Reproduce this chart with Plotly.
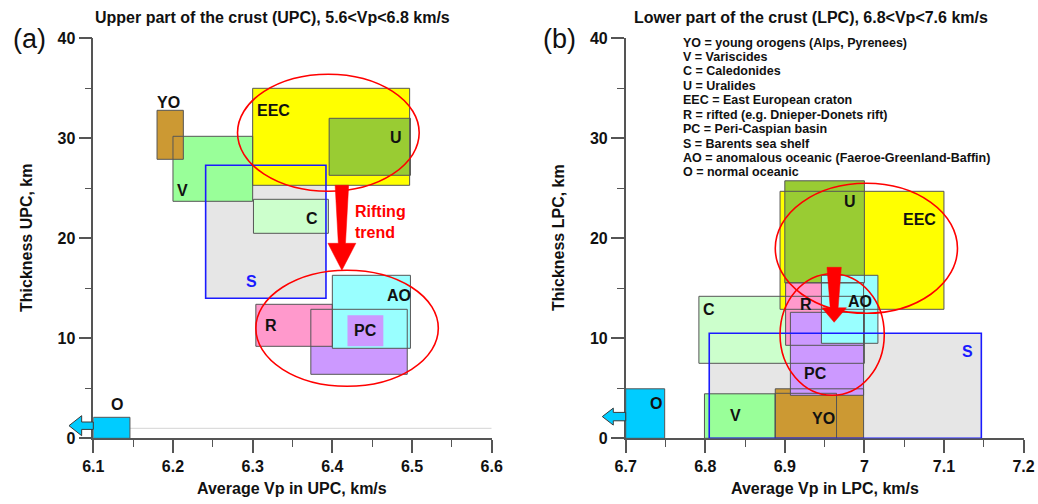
import plotly.graph_objects as go

W, H = 1038, 504
FONT = "Arial, Liberation Sans, sans-serif"

# ---------------- data: upper part of crust (panel a) ----------------
upc_names = ["S", "V", "YO", "EEC", "U", "C", "PC", "R", "AO", "PCi", "O"]
upc_x0 = [6.241, 6.200, 6.180, 6.300, 6.396, 6.301, 6.373, 6.304, 6.400, 6.419, 6.100]
upc_x1 = [6.392, 6.300, 6.213, 6.497, 6.498, 6.395, 6.494, 6.400, 6.498, 6.464, 6.146]
upc_y0 = [14.0, 23.7, 27.9, 25.3, 26.3, 20.5, 6.4, 9.2, 9.0, 9.2, 0.0]
upc_y1 = [27.3, 30.2, 32.8, 35.0, 32.0, 23.9, 12.9, 13.4, 16.3, 12.3, 2.1]

upc_lab = ["EEC", "U", "YO", "V", "C", "S", "AO", "R", "PC", "O"]
upc_lab_x = [6.326, 6.480, 6.194, 6.212, 6.375, 6.299, 6.484, 6.323, 6.441, 6.130]
upc_lab_y = [32.8, 30.1, 33.6, 24.8, 22.0, 15.7, 14.3, 11.3, 10.8, 3.4]

upc_ell_x0 = [6.281, 6.304]
upc_ell_x1 = [6.509, 6.533]
upc_ell_y0 = [24.7, 5.2]
upc_ell_y1 = [36.4, 16.8]

# red arrow: x, top, head base, tip
upc_arrow = [6.412, 25.3, 19.5, 16.8]
# cyan arrow: tip x, head-base x, tail x, y
upc_o_arrow = [6.0695, 6.0854, 6.100, 1.26]
upc_baseline_y = 1.0

# ---------------- data: lower part of crust (panel b) ----------------
lpc_names = ["S", "C", "EEC", "U", "R", "YO", "YO2", "V", "O", "PC", "AO"]
lpc_x0 = [6.805, 6.792, 6.894, 6.900, 6.901, 6.888, 6.888, 6.799, 6.700, 6.907, 6.946]
lpc_x1 = [7.147, 7.000, 7.100, 7.000, 6.999, 6.999, 6.965, 6.888, 6.749, 6.999, 7.017]
lpc_y0 = [0.0, 7.5, 12.9, 15.55, 9.3, 0.0, 0.0, 0.0, 0.0, 4.3, 9.5]
lpc_y1 = [10.5, 14.2, 24.7, 25.75, 15.55, 4.95, 4.5, 4.45, 4.95, 12.6, 16.3]

lpc_lab = ["U", "EEC", "R", "AO", "C", "S", "PC", "O", "V", "YO"]
lpc_lab_x = [6.982, 7.069, 6.926, 6.995, 6.805, 7.129, 6.939, 6.738, 6.838, 6.948]
lpc_lab_y = [23.7, 21.9, 13.4, 13.7, 12.9, 8.65, 6.5, 3.5, 2.3, 2.0]

lpc_ell_x0 = [6.888, 6.894]
lpc_ell_x1 = [7.117, 7.025]
lpc_ell_y0 = [12.5, 4.3]
lpc_ell_y1 = [25.5, 16.45]

lpc_arrow = [6.962, 17.1, 13.05, 11.6]
lpc_o_arrow = [6.6706, 6.6844, 6.700, 2.17]

legend_lines = [
    "YO = young orogens (Alps, Pyrenees)",
    "V = Variscides",
    "C = Caledonides",
    "U = Uralides",
    "EEC = East European craton",
    "R = rifted (e.g. Dnieper-Donets rift)",
    "PC = Peri-Caspian basin",
    "S = Barents sea shelf",
    "AO = anomalous oceanic (Faeroe-Greenland-Baffin)",
    "O = normal oceanic",
]

upc_xticks = [6.1, 6.2, 6.3, 6.4, 6.5, 6.6]
upc_xtext = ["6.1", "6.2", "6.3", "6.4", "6.5", "6.6"]
lpc_xticks = [6.7, 6.8, 6.9, 7.0, 7.1, 7.2]
lpc_xtext = ["6.7", "6.8", "6.9", "7", "7.1", "7.2"]
yticks = [0, 10, 20, 30, 40]

# ---------------- styles ----------------
COLORS = {
    "S": "#e6e6e6", "V": "#99ff99", "YO": "#cc9933", "YO2": "#cc9933",
    "EEC": "#ffff00", "U": "#99cc33", "C": "#ccffcc", "PC": "#cc99ff",
    "PCi": "#cc99ff", "R": "#ff99cc", "AO": "#99ffff", "O": "#00ccff",
}
EDGE = "#555555"
BLUE = "#1a1aff"
RED = "#ff0000"

XR1, XR2, YR = [6.1, 6.6], [6.7, 7.2], [0, 40]
DOM1 = [93.3 / W, 491.7 / W]
DOM2 = [625.7 / W, 1023.5 / W]
YDOM = [1 - 438.3 / H, 1 - 38.3 / H]

fig = go.Figure()
# invisible traces to instantiate axes
fig.add_trace(go.Scatter(x=[6.1], y=[0], xaxis="x", yaxis="y", mode="markers",
                         marker=dict(opacity=0), hoverinfo="skip", showlegend=False))
fig.add_trace(go.Scatter(x=[6.7], y=[0], xaxis="x2", yaxis="y2", mode="markers",
                         marker=dict(opacity=0), hoverinfo="skip", showlegend=False))

shapes = []
annotations = []


def panel(xref, yref, names, x0, x1, y0, y1):
    # fills
    for n, a, b, c, d in zip(names, x0, x1, y0, y1):
        shapes.append(dict(type="rect", xref=xref, yref=yref, x0=a, x1=b, y0=c, y1=d,
                           fillcolor=COLORS[n], line=dict(width=0), layer="above"))
    # outlines
    for n, a, b, c, d in zip(names, x0, x1, y0, y1):
        if n in ("S", "PCi"):
            continue
        shapes.append(dict(type="rect", xref=xref, yref=yref, x0=a, x1=b, y0=c, y1=d,
                           fillcolor="rgba(0,0,0,0)", line=dict(color=EDGE, width=1),
                           layer="above"))
    i = names.index("S")
    shapes.append(dict(type="rect", xref=xref, yref=yref, x0=x0[i], x1=x1[i], y0=y0[i],
                       y1=y1[i], fillcolor="rgba(0,0,0,0)", line=dict(color=BLUE, width=1.6),
                       layer="above"))


def labels(xref, yref, labs, lx, ly):
    for t, a, b in zip(labs, lx, ly):
        annotations.append(dict(text=t, x=a, y=b, xref=xref, yref=yref, showarrow=False,
                                xanchor="center", yanchor="middle",
                                font=dict(family=FONT, size=16, weight="bold",
                                          color=BLUE if t == "S" else "#111111")))


def ellipses(xref, yref, ex0, ex1, ey0, ey1):
    for a, b, c, d in zip(ex0, ex1, ey0, ey1):
        shapes.append(dict(type="circle", xref=xref, yref=yref, x0=a, x1=b, y0=c, y1=d,
                           line=dict(color=RED, width=1.6), fillcolor="rgba(0,0,0,0)",
                           layer="above"))


def red_arrow(xref, yref, arr, wt, wb, wh):
    x, top, base, tip = arr
    p = (f"M {x - wt},{top} L {x + wt},{top} L {x + wb},{base} L {x + wh},{base} "
         f"L {x},{tip} L {x - wh},{base} L {x - wb},{base} Z")
    shapes.append(dict(type="path", xref=xref, yref=yref, path=p, fillcolor=RED,
                       line=dict(color=RED, width=0.5), layer="above"))


def cyan_arrow(xdom, yr_dom, xr, arr, hh, sh):
    # drawn in axis-domain coordinates so it can extend past the y axis
    tip, hb, tail, yc = arr
    fx = lambda v: (v - xr[0]) / (xr[1] - xr[0])
    fy = lambda v: (v - YR[0]) / (YR[1] - YR[0])
    p = (f"M {fx(tip)},{fy(yc)} L {fx(hb)},{fy(yc + hh)} L {fx(hb)},{fy(yc + sh)} "
         f"L {fx(tail)},{fy(yc + sh)} L {fx(tail)},{fy(yc - sh)} L {fx(hb)},{fy(yc - sh)} "
         f"L {fx(hb)},{fy(yc - hh)} Z")
    shapes.append(dict(type="path", xref=xdom, yref=yr_dom, path=p, fillcolor="#00ccff",
                       line=dict(color="#3a3a3a", width=1), layer="above"))


# panel a
shapes.append(dict(type="line", xref="x", yref="y", x0=upc_x1[-1], x1=XR1[1],
                   y0=upc_baseline_y, y1=upc_baseline_y,
                   line=dict(color="#d4d4d4", width=1), layer="above"))
panel("x", "y", upc_names, upc_x0, upc_x1, upc_y0, upc_y1)
ellipses("x", "y", upc_ell_x0, upc_ell_x1, upc_ell_y0, upc_ell_y1)
red_arrow("x", "y", upc_arrow, 0.0085, 0.0045, 0.0175)
cyan_arrow("x domain", "y domain", XR1, upc_o_arrow, 1.0, 0.37)
labels("x", "y", upc_lab, upc_lab_x, upc_lab_y)
annotations.append(dict(text="Rifting<br>trend", x=6.426, y=21.6, xref="x", yref="y",
                        showarrow=False, xanchor="left", yanchor="middle", align="left",
                        font=dict(family=FONT, size=16, weight="bold", color=RED)))

# panel b
panel("x2", "y2", lpc_names, lpc_x0, lpc_x1, lpc_y0, lpc_y1)
ellipses("x2", "y2", lpc_ell_x0, lpc_ell_x1, lpc_ell_y0, lpc_ell_y1)
red_arrow("x2", "y2", lpc_arrow, 0.009, 0.005, 0.0155)
cyan_arrow("x2 domain", "y2 domain", XR2, lpc_o_arrow, 0.85, 0.42)
labels("x2", "y2", lpc_lab, lpc_lab_x, lpc_lab_y)

# legend text
for k, line in enumerate(legend_lines):
    annotations.append(dict(text=line, x=681 / W, y=1 - (42.7 + 14.4 * k) / H,
                            xref="paper", yref="paper", showarrow=False,
                            xanchor="left", yanchor="middle",
                            font=dict(family=FONT, size=12.5, weight="bold", color="#111111")))

# titles, panel letters, axis titles
def txt(t, px, py, size, bold=True, angle=0, anchor="center"):
    annotations.append(dict(text=t, x=px / W, y=1 - py / H, xref="paper", yref="paper",
                            showarrow=False, xanchor=anchor, yanchor="middle", textangle=angle,
                            font=dict(family=FONT, size=size,
                                      weight="bold" if bold else "normal", color="#111111")))

txt("Upper part of the crust (UPC), 5.6&lt;Vp&lt;6.8 km/s", 272, 17.5, 16)
txt("Lower part of the crust (LPC), 6.8&lt;Vp&lt;7.6 km/s", 811, 18, 16)
txt("(a)", 29, 39, 27, bold=False)
txt("(b)", 559, 39, 27, bold=False)
txt("Average Vp in UPC, km/s", 292, 488, 16)
txt("Average Vp in LPC, km/s", 825, 488, 16)
txt("Thickness UPC, km", 26, 238, 16, angle=-90)
txt("Thickness LPC, km", 558, 238, 16, angle=-90)

axis_common = dict(showgrid=False, zeroline=False, showline=True, linecolor="#555555",
                   linewidth=1.5, ticks="outside", ticklen=13, tickwidth=1.5,
                   tickcolor="#555555", automargin=False,
                   tickfont=dict(family=FONT, size=16, weight="bold", color="#111111"),
                   fixedrange=True)

fig.update_layout(
    template="none",
    width=W, height=H, margin=dict(l=0, r=0, t=0, b=0, pad=0), autosize=False,
    paper_bgcolor="white", plot_bgcolor="white", showlegend=False,
    xaxis=dict(domain=DOM1, range=XR1, tickvals=upc_xticks, ticktext=upc_xtext,
               anchor="y", minor=dict(dtick=0.05, ticklen=7, tickcolor="#555555",
                                      ticks="outside", tickwidth=1.2),
               **axis_common),
    yaxis=dict(domain=YDOM, range=YR, tickvals=yticks, anchor="x",
               minor=dict(dtick=5, ticklen=7, tickcolor="#555555", ticks="outside",
                          tickwidth=1.2),
               **axis_common),
    xaxis2=dict(domain=DOM2, range=XR2, tickvals=lpc_xticks, ticktext=lpc_xtext,
                anchor="y2", minor=dict(dtick=0.05, ticklen=7, tickcolor="#555555",
                                        ticks="outside", tickwidth=1.2),
                **axis_common),
    yaxis2=dict(domain=YDOM, range=YR, tickvals=yticks, anchor="x2",
                minor=dict(dtick=5, ticklen=7, tickcolor="#555555", ticks="outside",
                           tickwidth=1.2),
                **axis_common),
    shapes=shapes,
    annotations=annotations,
)

fig.write_html(
    "out.html",
    config={"displayModeBar": False},
    post_script="document.body.style.margin='0';document.body.style.overflow='hidden';",
)
